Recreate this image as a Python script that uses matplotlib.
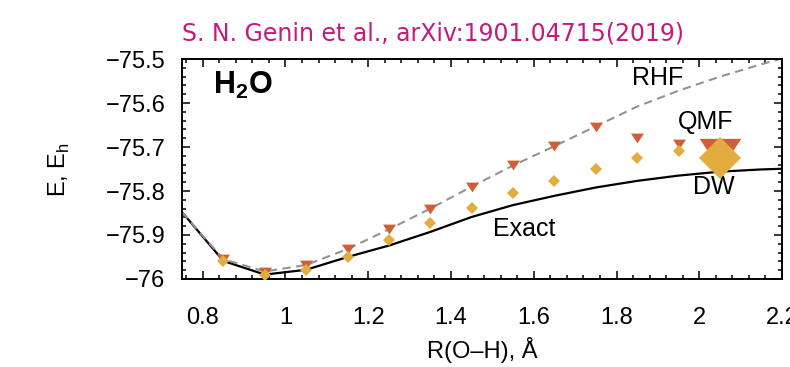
import numpy as np
import matplotlib
matplotlib.use('Agg')
import matplotlib.pyplot as plt
from matplotlib.ticker import MultipleLocator, AutoMinorLocator

plt.rcParams['font.family'] = ['Liberation Sans', 'DejaVu Sans']

# bond length R(O-H), Angstrom
r_pts = [0.85, 0.95, 1.05, 1.15, 1.25, 1.35, 1.45, 1.55, 1.65, 1.75, 1.85, 1.95]
e_qmf = [-75.955, -75.983, -75.968, -75.932, -75.887, -75.840, -75.790,
         -75.742, -75.698, -75.655, -75.680, -75.694]
e_dw = [-75.959, -75.990, -75.979, -75.950, -75.911, -75.873, -75.839,
        -75.804, -75.777, -75.749, -75.725, -75.708]

# highlighted points at the end
r_big = [2.05]
e_qmf_big = [-75.716]
e_dw_big = [-75.725]

r_line = [0.75, 0.85, 0.95, 1.05, 1.15, 1.25, 1.35, 1.45, 1.55, 1.65, 1.75,
          1.85, 1.95, 2.05, 2.15, 2.25]
e_rhf = [-75.848, -75.955, -75.983, -75.968, -75.932, -75.887, -75.840, -75.790,
         -75.742, -75.698, -75.653, -75.608, -75.572, -75.540, -75.512, -75.485]
e_exact = [-75.848, -75.959, -75.990, -75.979, -75.950, -75.924, -75.893, -75.859,
           -75.832, -75.811, -75.792, -75.777, -75.765, -75.756, -75.751, -75.748]

c_qmf = '#cf5f37'
c_dw = '#e3ac3f'
tri = [(-1, 0.75), (1, 0.75), (0, -0.75)]

fig = plt.figure(figsize=(7.9, 3.67), dpi=100)
ax = fig.add_axes([0.2304, 0.2398, 0.7595, 0.5994])

ax.plot(r_line, e_exact, color='black', lw=1.6, zorder=2)
ax.plot(r_line, e_rhf, color='#939393', lw=1.5, ls=(0, (4, 2.6)), zorder=2)
ax.plot(r_pts, e_qmf, ls='none', marker=tri, ms=9.4, mew=0, color=c_qmf, zorder=3)
ax.plot(r_pts, e_dw, ls='none', marker='D', ms=5.9, mew=0, color=c_dw, zorder=4)
ax.plot(r_big, e_qmf_big, ls='none', marker=tri, ms=30, mew=0, color=c_qmf, zorder=3)
ax.plot(r_big, e_dw_big, ls='none', marker='D', ms=21, mew=0, color=c_dw, zorder=4)

ax.set_xlim(0.75, 2.19)
ax.set_ylim(-76.0, -75.5)
ax.xaxis.set_major_locator(MultipleLocator(0.2))
ax.xaxis.set_minor_locator(AutoMinorLocator(5))
ax.yaxis.set_major_locator(MultipleLocator(0.1))
ax.yaxis.set_minor_locator(AutoMinorLocator(5))
ax.set_xticks([0.8, 1.0, 1.2, 1.4, 1.6, 1.8, 2.0, 2.2])
ax.set_xticklabels(['0.8', '1', '1.2', '1.4', '1.6', '1.8', '2', '2.2'])
ax.set_yticks([-76.0, -75.9, -75.8, -75.7, -75.6, -75.5])
ax.set_yticklabels(['\u221276', '\u221275.9', '\u221275.8', '\u221275.7',
                    '\u221275.6', '\u221275.5'])
ax.tick_params(which='both', direction='in', top=True, right=True,
               width=1.1, labelsize=17)
ax.tick_params(which='major', length=5.5)
ax.tick_params(which='minor', length=3)
ax.tick_params(axis='x', pad=20)
ax.tick_params(axis='y', pad=12)
ax.get_xticklabels()[-1].set_clip_on(False)
for s in ax.spines.values():
    s.set_linewidth(1.4)

ax.set_xlabel('R(O\u2013H), \u00c5', fontsize=17, labelpad=6)
ax.set_ylabel('E, E$_\\mathregular{h}$', fontsize=17, labelpad=24)

ax.text(0.825, -75.56, 'H$_\\mathregular{2}$O', fontsize=22, fontweight='bold', va='center', ha='left')
ax.text(1.90, -75.543, 'RHF', fontsize=18, ha='center', va='center')
ax.text(2.015, -75.643, 'QMF', fontsize=18, ha='center', va='center')
ax.text(2.036, -75.792, 'DW', fontsize=18, ha='center', va='center')
ax.text(1.576, -75.887, 'Exact', fontsize=18, ha='center', va='center')

fig.text(0.2304, 0.91, 'S. N. Genin et al., arXiv:1901.04715(2019)', color='#c31a7b',
         fontsize=17, family='DejaVu Sans', ha='left', va='center')

fig.savefig('out.png', dpi=100)
